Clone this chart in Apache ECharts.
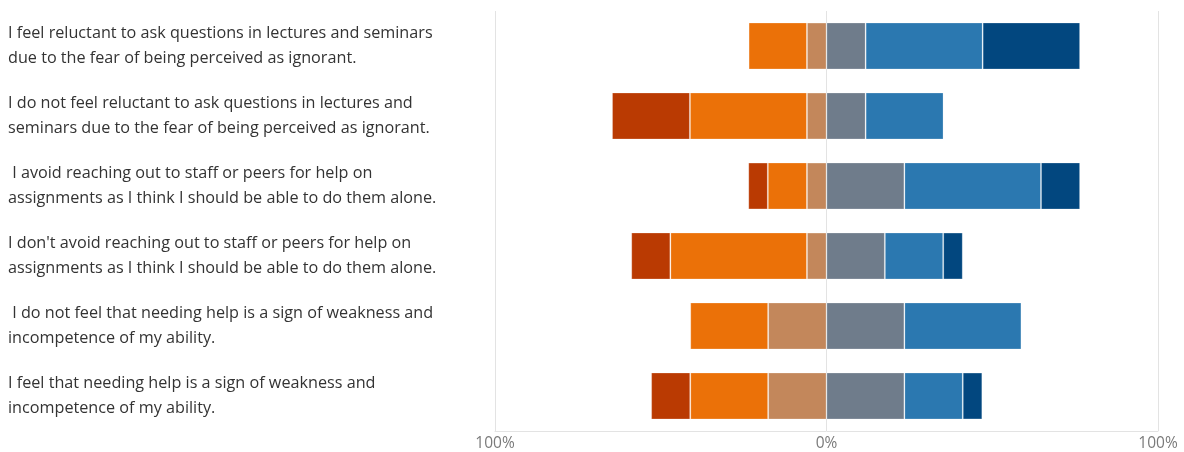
<!DOCTYPE html>
<html>
<head>
<meta charset="utf-8">
<script src="https://cdn.jsdelivr.net/npm/echarts@6/dist/echarts.min.js"></script>
<style>
  html, body { margin: 0; padding: 0; background: #fff; }
  #chart { width: 1184px; height: 452px; }
</style>
</head>
<body>
<div id="chart"></div>
<script>
// statements, top to bottom
const statements = [
   "I feel reluctant to ask questions in lectures and seminars\ndue to the fear of being perceived as ignorant.",
   "I do not feel reluctant to ask questions in lectures and\nseminars due to the fear of being perceived as ignorant.",
   " I avoid reaching out to staff or peers for help on\nassignments as I think I should be able to do them alone.",
   "I don't avoid reaching out to staff or peers for help on\nassignments as I think I should be able to do them alone.",
   " I do not feel that needing help is a sign of weakness and\nincompetence of my ability.",
   "I feel that needing help is a sign of weakness and\nincompetence of my ability."
];

// percent of responses
const stronglyDisagree = [0, 23.5, 5.9, 11.8, 0, 11.8];
const disagree         = [17.6, 35.3, 11.8, 41.2, 23.5, 23.5];
const slightlyDisagree = [5.9, 5.9, 5.9, 5.9, 17.6, 17.6];
const slightlyAgree    = [11.8, 11.8, 23.5, 17.6, 23.5, 23.5];
const agree            = [35.3, 23.5, 41.2, 17.6, 35.3, 17.6];
const stronglyAgree    = [29.4, 0, 11.8, 5.9, 0, 5.9];

const tickLabels = ["100%", "0%", "100%"];

const chart = echarts.init(document.getElementById("chart"));

function makeSeries(name, values, color, negative)
{
   return {
      name: name,
      type: 'bar',
      stack: 'total',
      barCategoryGap: '33%',
      itemStyle: { color: color, borderColor: 'rgba(255,255,255,0.22)', borderWidth: 1 },
      emphasis: { disabled: true },
      data: values.map(v => v === 0 ? '-' : (negative ? -v : v))
   };
}

chart.setOption(
{
   animation: false,
   grid: { left: 495, right: 26, top: 11, bottom: 21, containLabel: false },
   xAxis:
   {
      type: 'value',
      min: -100,
      max: 100,
      interval: 100,
      axisLine: { show: true, lineStyle: { color: '#e3e3e3', width: 1 } },
      axisTick: { show: false },
      splitLine: { show: true, lineStyle: { color: '#e3e3e3', width: 1 } },
      axisLabel:
      {
         color: '#7a7a7a',
         fontSize: 15.5,
         fontFamily: 'Open Sans',
         margin: 5,
         formatter: function (v) { return tickLabels[Math.round(v / 100) + 1]; }
      }
   },
   yAxis:
   {
      type: 'category',
      inverse: true,
      data: statements,
      axisLine: { show: false },
      axisTick: { show: false },
      splitLine: { show: false },
      axisLabel:
      {
         align: 'left',
         margin: 487,
         color: '#333',
         fontSize: 16.2,
         lineHeight: 25,
         fontFamily: 'Open Sans'
      }
   },
   series: [
      makeSeries('Slightly disagree', slightlyDisagree, '#c3875b', true),
      makeSeries('Disagree', disagree, '#eb7108', true),
      makeSeries('Strongly disagree', stronglyDisagree, '#ba3a02', true),
      makeSeries('Slightly agree', slightlyAgree, '#6f7c8b', false),
      makeSeries('Agree', agree, '#2b78b0', false),
      makeSeries('Strongly agree', stronglyAgree, '#02477f', false)
   ]
});
</script>
</body>
</html>
